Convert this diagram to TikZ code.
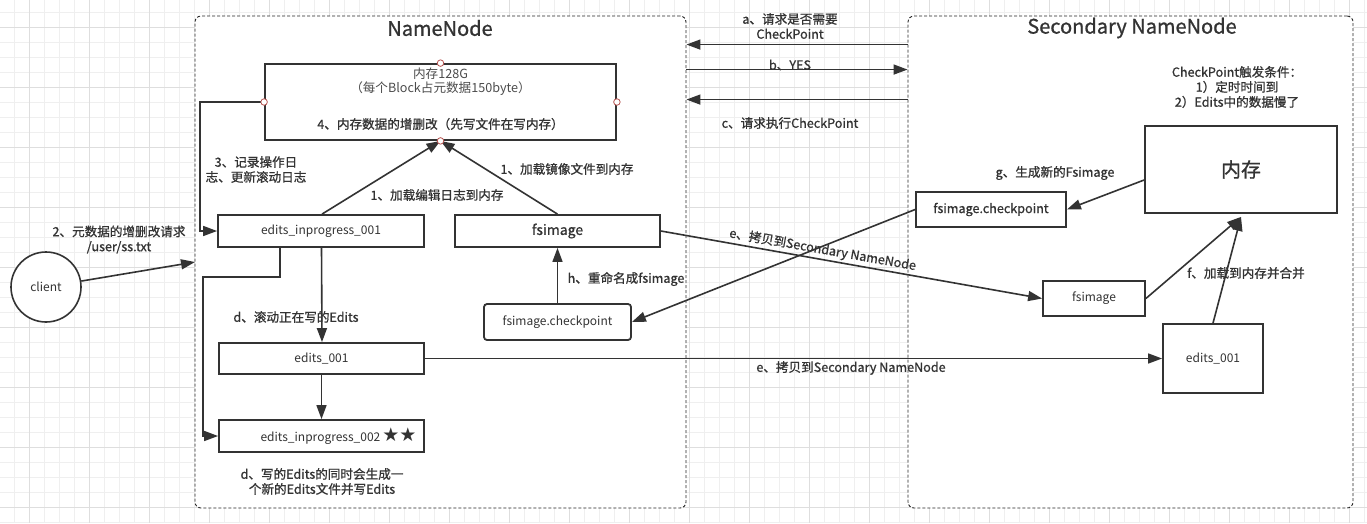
\documentclass[tikz,border=0pt]{standalone}
\usepackage{fontspec}
\setmainfont{Noto Sans CJK SC}
\newfontfamily\medf[FakeBold=0.9]{Noto Sans CJK SC}
\newfontfamily\symf{DejaVu Sans}
\usetikzlibrary{arrows.meta}
\definecolor{ink}{HTML}{333333}
\definecolor{gridminor}{HTML}{EFEFEF}
\definecolor{gridmajor}{HTML}{DEDEDE}
\definecolor{ptc}{HTML}{B85450}
\begin{document}
\begin{tikzpicture}[x=1pt,y=-1pt,
  box/.style={draw=ink, line width=1.8pt, fill=white, inner sep=0pt, text=ink, font=\fontsize{12}{15}\selectfont},
  lbl/.style={text=ink, font=\medf\fontsize{12.6}{15}\selectfont, align=center, inner sep=1pt},
  arr/.style={draw=ink, line width=1.6pt, -{Triangle[length=14pt,width=10pt]}},
  region/.style={draw=black!85, line width=0.9pt, dash pattern=on 3pt off 2pt, rounded corners=6pt, fill=white, inner sep=0pt},
  cpt/.style={circle, draw=ptc, line width=0.8pt, fill=white, inner sep=0pt, minimum size=6.5pt},
  title/.style={text=ink, font=\medf\fontsize{20}{22}\selectfont, inner sep=0pt}
]
\useasboundingbox (0,0) rectangle (1367,523);
\fill[white] (0,0) rectangle (1367,523);
% grid
\foreach \i in {0,...,91} \draw[gridminor, line width=0.7pt] ({14.3+15*\i},0) -- ({14.3+15*\i},523);
\foreach \i in {0,...,34} \draw[gridminor, line width=0.7pt] (0,{12.3+15*\i}) -- (1367,{12.3+15*\i});
\foreach \i in {0,...,22} \draw[gridmajor, line width=0.7pt] ({29.3+60*\i},0) -- ({29.3+60*\i},523);
\foreach \i in {0,...,8} \draw[gridmajor, line width=0.7pt] (0,{27.3+60*\i}) -- (1367,{27.3+60*\i});

% regions
\node[region, minimum width=491pt, minimum height=492pt] (nnbox) at (440.5,262) {};
\node[region, minimum width=445pt, minimum height=492pt] (snbox) at (1130.5,262) {};
\node[title] (nntitle) at (440,28) {NameNode};
\node[title] (sntitle) at (1132,28) {Secondary NameNode};

% NameNode nodes
\node[box, minimum width=351pt, minimum height=76pt] (mem) at (440.5,102) {};
\node[lbl, font=\fontsize{12.6}{15}\selectfont, text=black!70] (memt1) at (440.5,74) {内存128G};
\node[lbl, font=\fontsize{12.6}{15}\selectfont, text=black!70] (memt2) at (440.5,89) {（每个Block占元数据150byte）};
\node[lbl] (memt3) at (440.5,124) {4、内存数据的增删改（先写文件在写内存）};

\node[box] (ei1) at (321,231) [minimum width=206pt, minimum height=32pt] {edits\_inprogress\_001};
\node[box, minimum width=205pt, minimum height=32pt, font=\medf\fontsize{14}{15}\selectfont] (fs) at (557.5,231) {fsimage};
\node[box, minimum width=147pt, minimum height=36pt, rounded corners=3pt] (fsck) at (557.5,322) {fsimage.checkpoint};
\node[box, minimum width=205pt, minimum height=31pt] (ed1) at (321.5,358.5) {edits\_001};
\node[box, minimum width=205pt, minimum height=32pt] (ei2) at (321.5,436) {\hspace*{34pt}edits\_inprogress\_002\,{\symf\fontsize{19}{19}\selectfont\raisebox{-0.5pt}{★★}}};

\node[circle, draw=ink, line width=1.6pt, minimum size=70pt, inner sep=0pt, text=ink, font=\fontsize{12}{15}\selectfont, fill=white] (client) at (46,287) {client};
\coordinate (nnin) at (195,262);

% Secondary nodes
\node[box, minimum width=192pt, minimum height=87pt, font=\medf\fontsize{20}{22}\selectfont] (smem) at (1241,169.5) {内存};
\node[box, minimum width=150pt, minimum height=35pt, font=\medf\fontsize{12.6}{15}\selectfont] (sfsck) at (991,209.5) {fsimage.checkpoint};
\node[box, minimum width=102pt, minimum height=35pt] (sfs) at (1094,298.5) {fsimage};
\node[box, minimum width=100pt, minimum height=69pt] (sed) at (1213,358.5) {edits\_001};

% connectors in NameNode
\draw[arr] (client) -- (nnin);
\draw[arr] (mem.west) -- ++(-64,0) |- (ei1.west);
\draw[arr] ([xshift=-41pt]ei1.south) -- ++(0,29) -- ++(-77,0) |- (ei2.west);
\draw[arr] ([xshift=1pt]ei1.north) -- (mem.south);
\draw[arr] (fs.north) -- (mem.south);
\draw[arr] (fsck.north) -- (fs.south);
\draw[arr] ([xshift=0.5pt]ei1.south) -- ([xshift=0.5pt]ed1.north);
\draw[arr] (ed1.south) -- (ei2.north);

% connection points
\node[cpt] (c1) at (mem.north) {};
\node[cpt] (c2) at (mem.west) {};
\node[cpt] (c3) at (mem.east) {};
\node[cpt] (c4) at (mem.south) {};

% between regions
\draw[arr] ([yshift=-29pt]snbox.north west) -- ([yshift=-29pt]nnbox.north east);
\draw[arr] ([yshift=-54pt]nnbox.north east) -- ([yshift=-54pt]snbox.north west);
\draw[arr] ([yshift=-84pt]snbox.north west) -- ([yshift=-84pt]nnbox.north east);

\draw[arr] (fs.east) -- node[lbl, sloped, above, pos=0.42, yshift=1pt] (le1) {e、拷贝到Secondary NameNode} (sfs.west);
\draw[arr] (sfsck.west) -- (fsck.east);
\draw[arr] (ed1.east) -- (sed.west);
\draw[arr] ([yshift=-10.5pt]smem.west) -- (sfsck.east);
\draw[arr] (sfs.east) -- ([yshift=-3pt]smem.south);
\draw[arr] (sed.north) -- ([yshift=-3pt]smem.south);

% labels
\node[lbl] (l3) at (256,169.5) {3、记录操作日\\志、更新滚动日志};
\node[lbl] (l2) at (119,239.5) {2、元数据的增删改请求\\/user/ss.txt};
\node[lbl] (l1a) at (437,195) {1、加载编辑日志到内存};
\node[lbl] (l1b) at (567,169) {1、加载镜像文件到内存};
\node[lbl] (lh) at (626,279) {h、重命名成fsimage};
\node[lbl] (ld1) at (296,317) {d、滚动正在写的Edits};
\node[lbl] (ld2) at (322,481.5) {d、写的Edits的同时会生成一\\个新的Edits文件并写Edits};
\node[lbl] (la) at (790,26) {a、请求是否需要\\CheckPoint};
\node[lbl] (lb) at (790,65) {b、YES};
\node[lbl] (lc) at (790,123) {c、请求执行CheckPoint};
\node[lbl] (le2) at (851,368) {e、拷贝到Secondary NameNode};
\node[lbl] (lcp) at (1237,87) {CheckPoint触发条件：\\1）定时时间到\\2）Edits中的数据慢了};
\node[lbl] (lg) at (1055,173) {g、生成新的Fsimage};
\node[lbl] (lf) at (1246,273) {f、加载到内存并合并};
\end{tikzpicture}
\end{document}
